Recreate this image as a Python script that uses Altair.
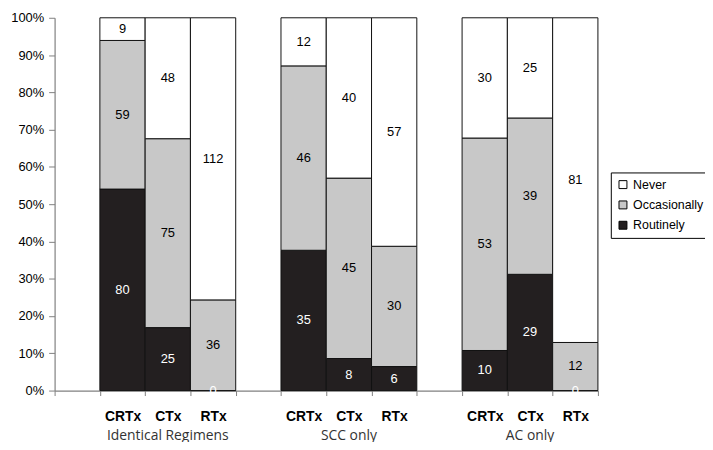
import altair as alt
import pandas as pd

groups = ["Identical Regimens", "SCC only", "AC only"]
treatments = ["CRTx", "CTx", "RTx"]
responses = ["Routinely", "Occasionally", "Never"]
routinely = [80, 25, 0, 35, 8, 6, 10, 29, 0]
occasionally = [59, 75, 36, 46, 45, 30, 53, 39, 12]
never = [9, 48, 112, 12, 40, 57, 30, 25, 81]
legend_order = ["Never", "Occasionally", "Routinely"]
legend_colors = ["#ffffff", "#c8c8c8", "#231f20"]
y_ticks = [0.0, 0.1, 0.2, 0.3, 0.4, 0.5, 0.6, 0.7, 0.8, 0.9, 1.0]

ZW = "\u200b"  # zero-width space keeps repeated labels unique
slots = []
for gi, g in enumerate(groups):
    slots.append(ZW * (gi + 1))
    for t in treatments:
        slots.append(t + ZW * gi)

rows = []
i = 0
for gi, g in enumerate(groups):
    for t in treatments:
        vals = [routinely[i], occasionally[i], never[i]]
        tot = sum(vals)
        cum = 0
        for r, v in zip(responses, vals):
            y0 = cum / tot
            cum += v
            y1 = cum / tot
            rows.append(dict(slot=t + ZW * gi, grp=g, response=r,
                             count=v, y0=y0, y1=y1, mid=(y0 + y1) / 2))
        i += 1
df = pd.DataFrame(rows)
gdf = pd.DataFrame({"slot": ["CTx" + ZW * gi for gi in range(len(groups))],
                    "grp": groups})

xscale = alt.Scale(domain=slots, paddingInner=0, paddingOuter=0)
yscale = alt.Scale(domain=[0, 1], nice=False)

xaxis = alt.Axis(title=None, labelAngle=0, tickBand="extent",
                 labelFont="Liberation Sans", labelFontSize=14,
                 labelFontWeight="bold", labelColor="black",
                 tickSize=5, labelPadding=14,
                 domainColor="#808080", tickColor="#808080",
                 domainWidth=1.2)
yaxis = alt.Axis(title=None, format=".0%", values=y_ticks,
                 labelOverlap=False, grid=False,
                 labelFont="Liberation Sans", labelFontSize=13,
                 labelColor="black", tickSize=6, labelPadding=5,
                 domainColor="#808080", tickColor="#808080",
                 domainWidth=1.2)

bars = alt.Chart(df).mark_bar(stroke="#111111", strokeWidth=1).encode(
    x=alt.X("slot:N", scale=xscale, axis=xaxis),
    y=alt.Y("y0:Q", scale=yscale, axis=yaxis),
    y2="y1:Q",
    color=alt.Color("response:N",
                    scale=alt.Scale(domain=legend_order, range=legend_colors),
                    legend=alt.Legend(title=None, orient="none", legendX=561,
                                      legendY=156, strokeColor="black",
                                      fillColor="white", padding=6,
                                      symbolType="square", symbolSize=64,
                                      symbolStrokeColor="black",
                                      symbolStrokeWidth=1,
                                      labelFont="Liberation Sans",
                                      labelFontSize=12.5, labelColor="black",
                                      labelLimit=200,
                                      rowPadding=7.5, labelOffset=4)),
)

white_labels = alt.Chart(df).transform_filter(
    "datum.response == 'Routinely'"
).mark_text(font="Liberation Sans", fontSize=13, baseline="middle",
            color="white").encode(
    x=alt.X("slot:N", scale=xscale, axis=xaxis),
    y=alt.Y("mid:Q", scale=yscale, axis=yaxis),
    text="count:Q",
)

black_labels = alt.Chart(df).transform_filter(
    "datum.response != 'Routinely'"
).mark_text(font="Liberation Sans", fontSize=13, baseline="middle",
            color="black").encode(
    x=alt.X("slot:N", scale=xscale, axis=xaxis),
    y=alt.Y("mid:Q", scale=yscale, axis=yaxis),
    text="count:Q",
)

glabels = alt.Chart(gdf).mark_text(font="Open Sans", fontSize=14,
                                   color="#333333", baseline="middle").encode(
    x=alt.X("slot:N", scale=xscale, axis=xaxis),
    y=alt.value(422),
    text="grp:N",
)

chart = alt.layer(bars, white_labels, black_labels, glabels).properties(
    width=548, height=376,
    autosize=alt.AutoSizeParams(type="none"),
    padding={"left": 47, "top": 8, "right": 108, "bottom": 50},
).configure_view(stroke=None)

chart.save("out.html", embed_options={"renderer": "svg", "actions": False})
